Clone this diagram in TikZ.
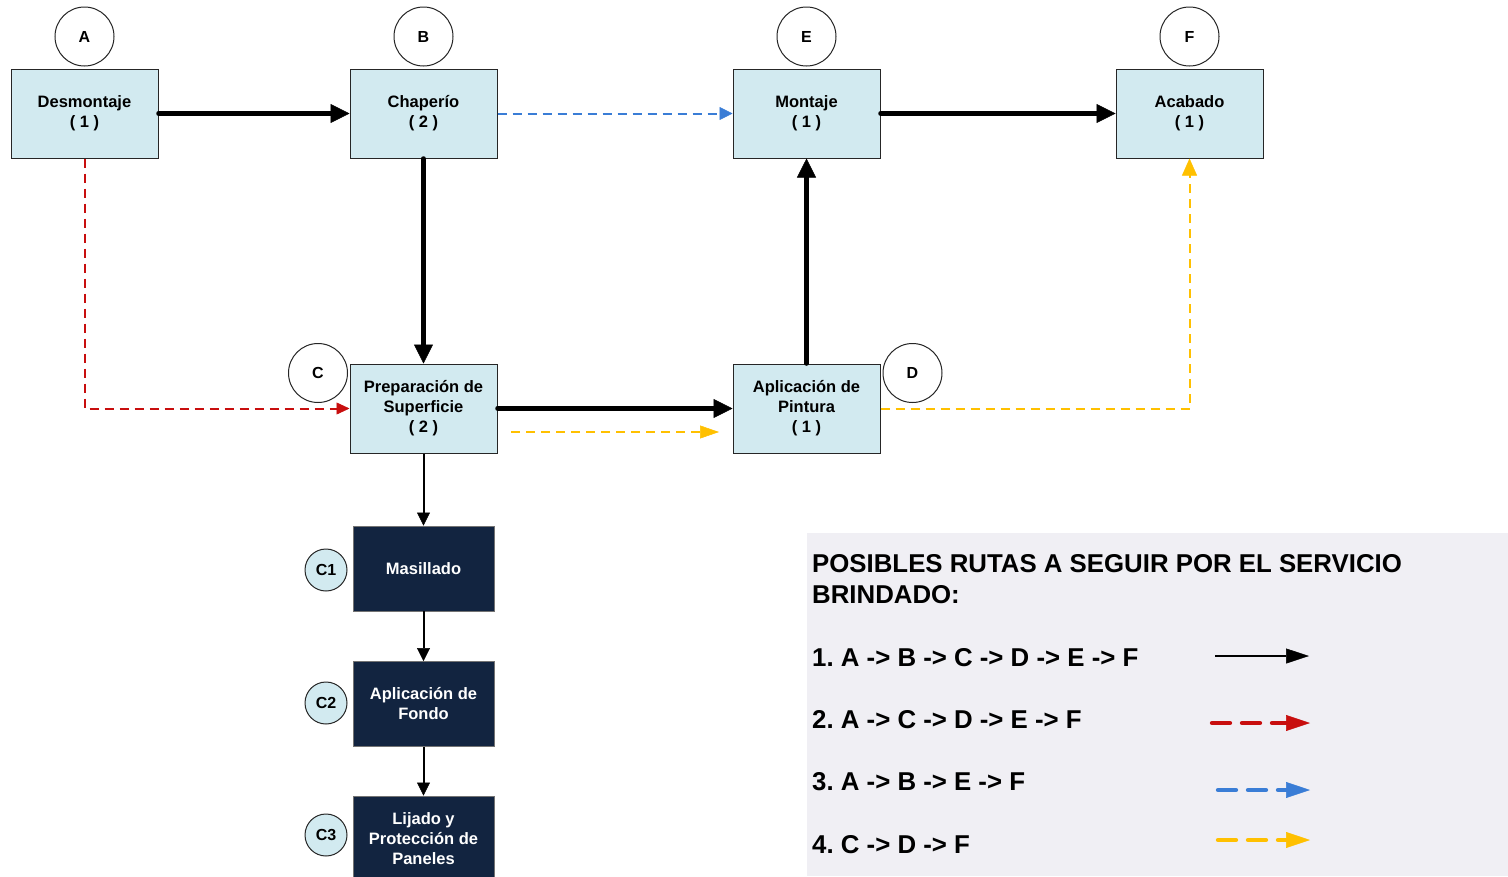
\documentclass[tikz,border=0pt]{standalone}
\usepackage{fontspec}
\setmainfont{Liberation Sans}
\usetikzlibrary{arrows.meta}
\frenchspacing

\definecolor{stagefill}{RGB}{210,234,240}
\definecolor{navybox}{RGB}{18,36,64}
\definecolor{legendbg}{RGB}{240,239,244}
\definecolor{routered}{RGB}{200,14,14}
\definecolor{routeblue}{RGB}{58,125,214}
\definecolor{routeyellow}{RGB}{255,192,0}

\begin{document}
\begin{tikzpicture}[x=1pt,y=-1pt,
  stage/.style={draw=black!85, line width=1pt, fill=stagefill,
    minimum width=147pt, minimum height=89pt, inner sep=0pt, align=center,
    font=\fontsize{16.5}{20}\selectfont\bfseries},
  substage/.style={draw=black!55, line width=0.8pt, fill=navybox, text=white,
    minimum width=141pt, minimum height=85pt, inner sep=0pt, align=center,
    font=\fontsize{16.5}{20}\selectfont\bfseries},
  tag/.style={circle, draw=black!85, line width=1pt, fill=white,
    minimum size=59pt, inner sep=0pt, font=\fontsize{16}{16}\selectfont\bfseries},
  subtag/.style={circle, draw=black!85, line width=1pt, fill=stagefill,
    minimum size=42pt, inner sep=0pt, font=\fontsize{16}{16}\selectfont\bfseries},
  mainflow/.style={line width=4.5pt, line cap=round,
    -{Triangle[length=19pt,width=19pt,line width=0.5pt]}},
  subflow/.style={line width=2pt,
    -{Triangle[length=13pt,width=13pt,line width=0.5pt]}},
  altflow/.style={line width=2pt, dash pattern=on 9pt off 6pt},
  legendtext/.style={anchor=base west, inner sep=0pt,
    font=\fontsize{25.8}{31}\selectfont\bfseries},
  legendline/.style={line width=4.3pt, line cap=round, dash pattern=on 18pt off 12pt},
]
\useasboundingbox (0,0) rectangle (1508,876);

% legend panel
\fill[legendbg] (807,533) rectangle (1508,876);

% main stages
\node[stage] (A) at (84.5,113.5) {Desmontaje\\( 1 )};
\node[stage] (B) at (423.5,113.5) {Chaperío\\( 2 )};
\node[stage] (E) at (806.5,113.5) {Montaje\\( 1 )};
\node[stage] (F) at (1189.5,113.5) {Acabado\\( 1 )};
\node[stage] (C) at (423.5,408.5) {Preparación de\\Superficie\\( 2 )};
\node[stage] (D) at (806.5,408.5) {Aplicación de\\Pintura\\( 1 )};

% stage letters
\node[tag] (tA) at (84.5,36.5) {A};
\node[tag] (tB) at (423.5,36.5) {B};
\node[tag] (tE) at (806.5,36.5) {E};
\node[tag] (tF) at (1189.5,36.5) {F};
\node[tag] (tC) at (318,373) {C};
\node[tag] (tD) at (912.5,373) {D};

% sub-stages of surface preparation
\node[substage] (C1) at (423.5,568.5) {Masillado};
\node[substage] (C2) at (423.5,704) {Aplicación de\\Fondo};
\node[substage] (C3) at (423.5,838.5) {Lijado y\\Protección de\\Paneles};
\node[subtag] (tC1) at (326,570) {C1};
\node[subtag] (tC2) at (326,703) {C2};
\node[subtag] (tC3) at (326,835) {C3};

% route 1 (solid)
\draw[mainflow] (A.east) -- (B.west);
\draw[mainflow] (B.south) -- (C.north);
\draw[mainflow] (C.east) -- (D.west);
\draw[mainflow] (D.north) -- (E.south);
\draw[mainflow] (E.east) -- (F.west);

% sub-stage chain
\draw[subflow] (C.south) -- (C1.north);
\draw[subflow] (C1.south) -- (C2.north);
\draw[subflow] (C2.south) -- (C3.north);

% route 2 (red)
\draw[altflow, routered, -{Triangle[length=13pt,width=12pt,line width=0.5pt]}]
  (A.south) |- (C.west);
% route 3 (blue)
\draw[altflow, routeblue, -{Triangle[length=13pt,width=13pt,line width=0.5pt]}]
  (B.east) -- (E.west);
% route 4 (yellow)
\coordinate (yS) at (511,432);
\coordinate (yT) at (719,432);
\draw[altflow, routeyellow, -{Triangle[length=19pt,width=13pt,line width=0.5pt]}]
  (yS) -- (yT);
\draw[altflow, routeyellow, -{Triangle[length=17pt,width=15pt,line width=0.5pt]}]
  (D.east) -| (F.south);

% legend
\node[legendtext, align=left] (title) at (812,603)
  {POSIBLES RUTAS A SEGUIR POR EL SERVICIO\\BRINDADO:};
\node[legendtext] (r1) at (812,666.5) {1. A -> B -> C -> D -> E -> F};
\node[legendtext] (r2) at (812,728.5) {2. A -> C -> D -> E -> F};
\node[legendtext] (r3) at (812,790.5) {3. A -> B -> E -> F};
\node[legendtext] (r4) at (812,853.5) {4. C -> D -> F};

\coordinate (k1a) at (1215,656);  \coordinate (k1b) at (1309,656);
\coordinate (k2a) at (1212,723);  \coordinate (k2b) at (1310,723);
\coordinate (k3a) at (1218,790);  \coordinate (k3b) at (1310,790);
\coordinate (k4a) at (1218,840);  \coordinate (k4b) at (1310,840);
\draw[line width=2.4pt, -{Triangle[length=23pt,width=15pt,line width=0.5pt]}] (k1a) -- (k1b);
\draw[legendline, routered, -{Triangle[length=24pt,width=16pt,line width=0.5pt]}] (k2a) -- (k2b);
\draw[legendline, routeblue, -{Triangle[length=24pt,width=16pt,line width=0.5pt]}] (k3a) -- (k3b);
\draw[legendline, routeyellow, -{Triangle[length=24pt,width=16pt,line width=0.5pt]}] (k4a) -- (k4b);
\end{tikzpicture}
\end{document}
